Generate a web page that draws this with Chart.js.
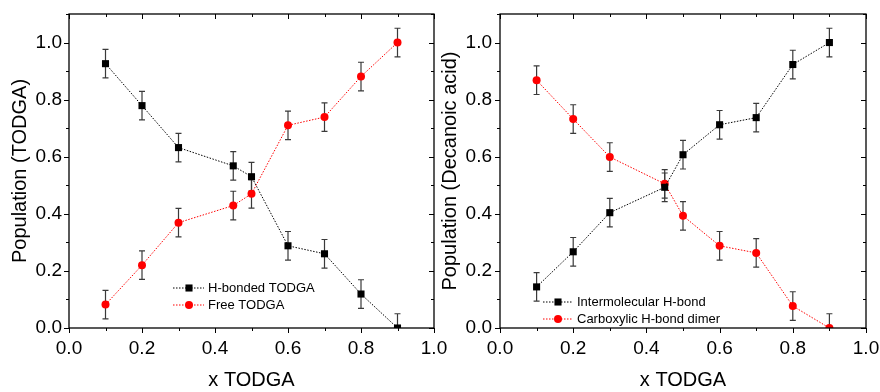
<!DOCTYPE html>
<html>
<head>
<meta charset="utf-8">
<script src="https://cdn.jsdelivr.net/npm/chart.js@4.4.1/dist/chart.umd.min.js"></script>
<style>
body{margin:0;background:#fff;}
#wrap{position:relative;width:880px;height:392px;}
#leftBox{position:absolute;left:0;top:0;width:460px;height:392px;}
#rightBox{position:absolute;left:440px;top:0;width:440px;height:392px;}
</style>
</head>
<body>
<div id="wrap">
  <div id="leftBox"><canvas id="todgaChart"></canvas></div>
  <div id="rightBox"><canvas id="acidChart"></canvas></div>
</div>
<script>
// mole fraction of TODGA
var xTodga = [0.1, 0.2, 0.3, 0.45, 0.5, 0.6, 0.7, 0.8, 0.9];
// left panel
var hBonded = [0.926, 0.779, 0.632, 0.568, 0.530, 0.288, 0.260, 0.119, 0.0];
var freeTodga = [0.082, 0.220, 0.369, 0.429, 0.470, 0.710, 0.739, 0.881, 1.0];
// right panel
var interHBond = [0.144, 0.267, 0.404, 0.493, 0.607, 0.712, 0.737, 0.923, 1.0];
var carboxDimer = [0.868, 0.732, 0.599, 0.505, 0.393, 0.288, 0.263, 0.077, 0.0];
var errTodga = [0.05, 0.05, 0.05, 0.05, 0.05, 0.05, 0.05, 0.05, 0.05];
var errAcid = [0.05, 0.05, 0.05, 0.05, 0.05, 0.05, 0.05, 0.05, 0.05];
var xTicks = [0, 0.2, 0.4, 0.6, 0.8, 1.0];
var yTicks = [0, 0.2, 0.4, 0.6, 0.8, 1.0];

Chart.defaults.font.family = "'Liberation Sans', Arial, sans-serif";
Chart.defaults.color = '#000';

function pts(ys){
    return xTodga.map(function(x, i){ return {x: x, y: ys[i]}; });
}

// error bars, under the markers
var errorBars = {
    id: 'errorBars',
    beforeDatasetsDraw: function(chart){
        var ctx = chart.ctx, a = chart.chartArea;
        var xs = chart.scales.x, ys = chart.scales.y;
        ctx.save();
        ctx.beginPath();
        ctx.rect(a.left, a.top, a.right - a.left, a.bottom - a.top);
        ctx.clip();
        ctx.strokeStyle = '#3a3a3a';
        ctx.lineWidth = 1.2;
        chart.data.datasets.forEach(function(ds){
            ds.data.forEach(function(p, i){
                var e = ds.errors[i];
                var x = xs.getPixelForValue(p.x);
                var y1 = ys.getPixelForValue(p.y + e);
                var y2 = ys.getPixelForValue(p.y - e);
                ctx.beginPath();
                ctx.moveTo(x, y1); ctx.lineTo(x, y2);
                ctx.moveTo(x - 3, y1); ctx.lineTo(x + 3, y1);
                ctx.moveTo(x - 3, y2); ctx.lineTo(x + 3, y2);
                ctx.stroke();
            });
        });
        ctx.restore();
    }
};

// box with ticks on all four sides (origin style)
var frameTicks = {
    id: 'frameTicks',
    afterDatasetsDraw: function(chart){
        var ctx = chart.ctx, a = chart.chartArea;
        var xs = chart.scales.x, ys = chart.scales.y;
        ctx.save();
        ctx.strokeStyle = '#000';
        ctx.lineWidth = 1.3;
        ctx.strokeRect(a.left, a.top, a.right - a.left, a.bottom - a.top);
        ctx.lineWidth = 1;
        ctx.beginPath();
        for (var k = 0; k <= 10; k++){
            var len = k % 2 == 0 ? 5 : 3;
            var x = Math.round(xs.getPixelForValue(k / 10)) + 0.5;
            ctx.moveTo(x, a.bottom); ctx.lineTo(x, a.bottom + len);
            ctx.moveTo(x, a.top); ctx.lineTo(x, a.top + len);
        }
        for (var j = 0; j <= 11; j++){
            var l2 = j % 2 == 0 ? 5 : 3;
            var y = Math.round(ys.getPixelForValue(j / 10)) + 0.5;
            ctx.moveTo(a.left, y); ctx.lineTo(a.left - l2, y);
            ctx.moveTo(a.right, y); ctx.lineTo(a.right - l2, y);
        }
        ctx.stroke();
        ctx.restore();
    }
};

// legend drawn inside the plot
var inLegend = {
    id: 'inLegend',
    afterDraw: function(chart, args, opts){
        var ctx = chart.ctx;
        ctx.save();
        chart.data.datasets.forEach(function(ds, i){
            var y = opts.rows[i];
            ctx.strokeStyle = ds.borderColor;
            ctx.lineWidth = 1;
            ctx.setLineDash(ds.borderDash);
            ctx.beginPath();
            ctx.moveTo(opts.x1, y); ctx.lineTo(opts.x2, y);
            ctx.stroke();
            ctx.setLineDash([]);
            ctx.fillStyle = ds.pointBackgroundColor;
            if (ds.pointStyle == 'rect'){
                var s = ds.pointRadius * Math.SQRT1_2;
                ctx.fillRect(opts.xm - s, y - s, 2 * s, 2 * s);
            } else {
                ctx.beginPath();
                ctx.arc(opts.xm, y, ds.pointRadius, 0, Math.PI * 2);
                ctx.fill();
            }
            ctx.fillStyle = '#000';
            ctx.font = "13px 'Liberation Sans', Arial, sans-serif";
            ctx.textBaseline = 'middle';
            ctx.fillText(ds.label, opts.xt, y + 0.5);
        });
        ctx.restore();
    }
};

function makeSet(label, ys, errs, color, style, radius){
    return {
        label: label,
        data: pts(ys),
        errors: errs,
        showLine: true,
        borderColor: color,
        borderWidth: 1,
        borderDash: [1.5, 1.5],
        pointStyle: style,
        pointRadius: radius,
        pointBorderWidth: 0,
        pointBackgroundColor: color,
        pointBorderColor: color,
        clip: 0
    };
}

function makeOptions(yTitle, yWidth, yTitlePad, yTickPad, padRight, legendPos){
    return {
        responsive: true,
        maintainAspectRatio: false,
        animation: false,
        layout: {padding: {top: 14, right: padRight, left: 0, bottom: 0}},
        plugins: {
            legend: {display: false},
            tooltip: {enabled: false},
            inLegend: legendPos
        },
        scales: {
            x: {
                type: 'linear', min: 0, max: 1,
                grid: {display: false, drawTicks: false},
                border: {display: false},
                afterBuildTicks: function(s){ s.ticks = xTicks.map(function(v){ return {value: v}; }); },
                afterFit: function(s){ s.height = 64; s.paddingLeft = 0; s.paddingRight = 0; },
                ticks: {padding: 9, font: {size: 19}, callback: function(v){ return v.toFixed(1); }},
                title: {display: true, text: 'x TODGA', font: {size: 20}, padding: {top: 4, bottom: 0}}
            },
            y: {
                type: 'linear', min: 0, max: 1.1,
                grid: {display: false, drawTicks: false},
                border: {display: false},
                afterBuildTicks: function(s){ s.ticks = yTicks.map(function(v){ return {value: v}; }); },
                afterFit: function(s){ s.width = yWidth; s.paddingTop = 0; s.paddingBottom = 0; },
                ticks: {padding: yTickPad, font: {size: 19}, callback: function(v){ return v.toFixed(1); }},
                title: {display: true, text: yTitle, font: {size: 20, lineHeight: 1}, padding: {top: yTitlePad, bottom: 0}}
            }
        }
    };
}

new Chart(document.getElementById('todgaChart'), {
    type: 'scatter',
    data: {datasets: [
        makeSet('H-bonded TODGA', hBonded, errTodga, '#000000', 'rect', 5),
        makeSet('Free TODGA', freeTodga, errTodga, '#ff0000', 'circle', 4)
    ]},
    options: makeOptions('Population (TODGA)', 69, 10, 7, 26,
        {x1: 173, xm: 189, x2: 204, xt: 208, rows: [288, 305]}),
    plugins: [errorBars, frameTicks, inLegend]
});

new Chart(document.getElementById('acidChart'), {
    type: 'scatter',
    data: {datasets: [
        makeSet('Intermolecular H-bond', interHBond, errAcid, '#000000', 'rect', 5),
        makeSet('Carboxylic H-bond dimer', carboxDimer, errAcid, '#ff0000', 'circle', 4)
    ]},
    options: makeOptions('Population (Decanoic acid)', 60, 0.5, 8, 14,
        {x1: 103, xm: 118, x2: 133, xt: 137, rows: [302, 319]}),
    plugins: [errorBars, frameTicks, inLegend]
});
</script>
</body>
</html>
